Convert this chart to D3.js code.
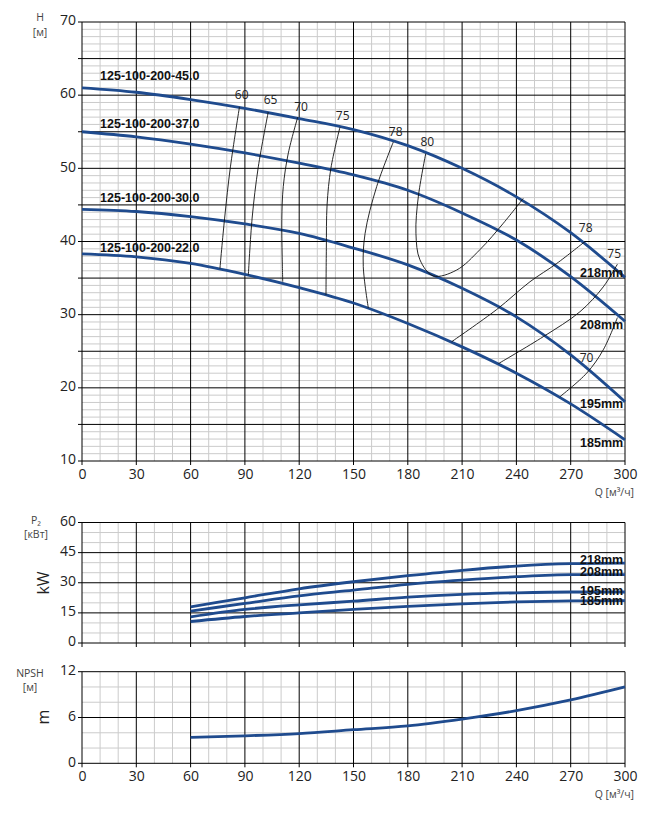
<!DOCTYPE html>
<html>
<head>
<meta charset="utf-8">
<script src="https://cdn.jsdelivr.net/npm/d3@7"></script>
<style>
  body { margin: 0; background: #fff; }
  svg { display: block; }
</style>
</head>
<body>
<div id="chart"><svg></svg></div>
<script>
// head curves, Q in m3/h, H in m
var flowQ = [0, 30, 60, 90, 120, 150, 180, 210, 240, 270, 300];
var head218 = [61.0, 60.4, 59.4, 58.2, 56.8, 55.3, 53.1, 50.0, 46.1, 41.2, 35.1];
var head208 = [55.0, 54.3, 53.3, 52.1, 50.7, 49.1, 47.0, 43.9, 40.2, 35.2, 29.1];
var head195 = [44.4, 44.1, 43.4, 42.4, 41.1, 39.1, 36.8, 33.6, 29.7, 24.5, 18.1];
var head185 = [38.3, 37.9, 37.0, 35.5, 33.7, 31.6, 28.8, 25.6, 22.0, 17.8, 12.9];

var models = ["125-100-200-45.0", "125-100-200-37.0", "125-100-200-30.0", "125-100-200-22.0"];
var diameters = ["218mm", "208mm", "195mm", "185mm"];
// where the model names sit (Q, H)
var modelLabelQ = [10, 10, 10, 10];
var modelLabelH = [62.7, 56.1, 46.0, 39.15];
var diameterLabelH = [35.75, 28.7, 17.9, 12.5];
var diameterLabelP = [41.7, 35.3, 26.3, 21.0];

// power P2, kW
var powerQ = [60, 90, 120, 150, 180, 210, 240, 270, 300];
var power218 = [18.0, 22.5, 27.0, 30.5, 33.5, 36.2, 38.3, 39.5, 39.8];
var power208 = [15.9, 19.7, 23.5, 26.3, 29.2, 31.3, 33.0, 34.0, 34.0];
var power195 = [13.0, 16.7, 19.0, 20.8, 22.8, 24.2, 25.0, 25.4, 25.4];
var power185 = [10.7, 13.2, 15.0, 16.7, 18.2, 19.5, 20.5, 21.0, 21.1];

// NPSH, m
var npshQ = [60, 90, 120, 150, 180, 210, 240, 270, 300];
var npshValues = [3.4, 3.6, 3.9, 4.4, 4.9, 5.8, 6.9, 8.3, 10.0];

// iso-efficiency lines, [Q, H]
var eff60 = [[87, 58.4], [82, 50.2], [78.8, 43.2], [76.2, 36.3]];
var eff65 = [[102.9, 57.7], [97.4, 50.2], [94, 43.2], [91.9, 35.4]];
var eff70 = [[119.2, 57.0], [114, 52.1], [111.2, 47.5], [110.4, 43], [110.6, 38], [110.9, 34.5]];
var eff75 = [[142.5, 55.6], [137.5, 50], [135.4, 45], [135, 39], [134.8, 32.7]];
var eff78 = [[172, 53.6], [162.8, 47.5], [156.4, 41.1], [155.4, 36.6], [158.2, 30.9]];
var eff80 = [[189.9, 52.0], [185.8, 46.1], [184.5, 41.1], [186.7, 37.5], [194.1, 35.3],
             [207, 36.1], [219.9, 38.9], [232.8, 42.5], [243.8, 45.9]];
var eff78r = [[277.9, 40.0], [262.3, 37.0], [247.5, 34.5], [229.1, 30.7], [204.2, 26.3]];
var eff75r = [[295.8, 36.9], [288, 33.8], [275.1, 30.4], [254.9, 27.0], [230, 23.3]];
var eff70r = [[295.8, 29.6], [288, 25.2], [278.8, 22.0], [264.1, 18.8]];

var effLabels = ["60", "65", "70", "75", "78", "80", "78", "75", "70"];
var effLabelQ = [88.2, 104.2, 121, 144, 173.3, 190.8, 278.3, 294, 278.8];
var effLabelH = [60.0, 59.3, 58.4, 57.2, 55.0, 53.6, 41.9, 38.3, 24.1];

var qTicks = d3.range(0, 301, 30);
var hTicks = d3.range(10, 71, 10);
var pTicks = [0, 15, 30, 45, 60];
var nTicks = [0, 6, 12];

var W = 651, H = 814;
var blue = "#1f4b8e";
var minor = "#cbcbcb";
var font = "'Open Sans', 'DejaVu Sans', sans-serif";
var boldFont = "'Liberation Sans', Arial, sans-serif";

var svg = d3.select("#chart").select("svg").attr("width", W).attr("height", H);

var x = d3.scaleLinear().domain([0, 300]).range([82, 625]);
var yH = d3.scaleLinear().domain([10, 70]).range([461, 22]);
var yP = d3.scaleLinear().domain([0, 60]).range([643, 522.5]);
var yN = d3.scaleLinear().domain([0, 12]).range([763.3, 671.7]);

function grid(y, yMin, yMax, minorStep, majorStep) {
  var g = svg.append("g");
  var y0 = y(yMin), y1 = y(yMax);
  // minor
  g.selectAll("line.vm").data(d3.range(0, 301, 10).filter(function (d) { return d % 30 !== 0; }))
    .enter().append("line")
    .attr("x1", function (d) { return x(d); }).attr("x2", function (d) { return x(d); })
    .attr("y1", y0).attr("y2", y1)
    .attr("stroke", minor).attr("stroke-width", 1);
  var hm = [];
  for (var v = yMin; v <= yMax + 1e-9; v += minorStep) {
    if (Math.abs(v / majorStep - Math.round(v / majorStep)) > 1e-6) hm.push(v);
  }
  g.selectAll("line.hm").data(hm).enter().append("line")
    .attr("x1", x(0)).attr("x2", x(300))
    .attr("y1", function (d) { return y(d); }).attr("y2", function (d) { return y(d); })
    .attr("stroke", minor).attr("stroke-width", 1);
  // major
  g.selectAll("line.vM").data(qTicks).enter().append("line")
    .attr("x1", function (d) { return x(d); }).attr("x2", function (d) { return x(d); })
    .attr("y1", y0 + 4).attr("y2", y1)
    .attr("stroke", "#000").attr("stroke-width", 1);
  g.selectAll("line.hM").data(d3.range(yMin, yMax + 1e-9, majorStep)).enter().append("line")
    .attr("x1", x(0) - 4).attr("x2", x(300))
    .attr("y1", function (d) { return y(d); }).attr("y2", function (d) { return y(d); })
    .attr("stroke", "#000").attr("stroke-width", 1);
}

function leftAxis(y, ticks) {
  var g = svg.append("g").attr("transform", "translate(" + x(0) + ",0)")
    .call(d3.axisLeft(y).tickValues(ticks).tickSize(0).tickPadding(6));
  g.select(".domain").remove();
  g.selectAll("text").attr("font-family", font).attr("font-size", 14)
    .attr("fill", "#222").attr("dy", "0.2em");
}

function bottomAxis(y0) {
  var g = svg.append("g").attr("transform", "translate(0," + y0 + ")")
    .call(d3.axisBottom(x).tickValues(qTicks).tickSize(0).tickPadding(8));
  g.select(".domain").remove();
  g.selectAll("text").attr("font-family", font).attr("font-size", 14).attr("fill", "#222");
}

function smallText(tx, ty, str, anchor) {
  svg.append("text").attr("x", tx).attr("y", ty)
    .attr("text-anchor", anchor || "middle").attr("dy", "0.35em")
    .attr("font-family", font).attr("font-size", 10.5).attr("fill", "#444")
    .text(str);
}

grid(yH, 10, 70, 1, 5);
grid(yP, 0, 60, 5, 15);
grid(yN, 0, 12, 2, 6);

leftAxis(yH, hTicks);
leftAxis(yP, pTicks);
leftAxis(yN, nTicks);
bottomAxis(yH(10));
bottomAxis(yN(0));

// head curves
var headLine = d3.line()
  .x(function (d) { return x(d[0]); })
  .y(function (d) { return yH(d[1]); })
  .curve(d3.curveMonotoneX);

var heads = [head218, head208, head195, head185];
svg.append("g").selectAll("path").data(heads).enter().append("path")
  .attr("d", function (d) { return headLine(d3.zip(flowQ, d)); })
  .attr("fill", "none").attr("stroke", blue).attr("stroke-width", 2.8);

// efficiency lines
var effLine = d3.line()
  .x(function (d) { return x(d[0]); })
  .y(function (d) { return yH(d[1]); })
  .curve(d3.curveCatmullRom.alpha(0.5));

var effs = [eff60, eff65, eff70, eff75, eff78, eff80, eff78r, eff75r, eff70r];
svg.append("g").selectAll("path").data(effs).enter().append("path")
  .attr("d", effLine)
  .attr("fill", "none").attr("stroke", "#111").attr("stroke-width", 0.9);

svg.append("g").selectAll("text").data(effLabels).enter().append("text")
  .attr("x", function (d, i) { return x(effLabelQ[i]); })
  .attr("y", function (d, i) { return yH(effLabelH[i]); })
  .attr("dy", "0.35em").attr("text-anchor", "middle")
  .attr("font-family", font).attr("font-size", 12).attr("fill", "#222")
  .text(function (d) { return d; });

svg.append("g").selectAll("text").data(models).enter().append("text")
  .attr("x", function (d, i) { return x(modelLabelQ[i]); })
  .attr("y", function (d, i) { return yH(modelLabelH[i]); })
  .attr("dy", "0.35em")
  .attr("font-family", boldFont).attr("font-size", 12.5).attr("font-weight", "bold")
  .attr("fill", "#111")
  .text(function (d) { return d; });

svg.append("g").selectAll("text").data(diameters).enter().append("text")
  .attr("x", x(299))
  .attr("y", function (d, i) { return yH(diameterLabelH[i]); })
  .attr("dy", "0.35em").attr("text-anchor", "end")
  .attr("font-family", boldFont).attr("font-size", 12.5).attr("font-weight", "bold")
  .attr("fill", "#111")
  .text(function (d) { return d; });

// power curves
var powerLine = d3.line()
  .x(function (d) { return x(d[0]); })
  .y(function (d) { return yP(d[1]); })
  .curve(d3.curveMonotoneX);

var powers = [power218, power208, power195, power185];
svg.append("g").selectAll("path").data(powers).enter().append("path")
  .attr("d", function (d) { return powerLine(d3.zip(powerQ, d)); })
  .attr("fill", "none").attr("stroke", blue).attr("stroke-width", 2.8);

svg.append("g").selectAll("text").data(diameters).enter().append("text")
  .attr("x", x(299))
  .attr("y", function (d, i) { return yP(diameterLabelP[i]); })
  .attr("dy", "0.35em").attr("text-anchor", "end")
  .attr("font-family", boldFont).attr("font-size", 12.5).attr("font-weight", "bold")
  .attr("fill", "#111")
  .text(function (d) { return d; });

// npsh curve
var npshLine = d3.line()
  .x(function (d) { return x(d[0]); })
  .y(function (d) { return yN(d[1]); })
  .curve(d3.curveMonotoneX);

svg.append("path")
  .attr("d", npshLine(d3.zip(npshQ, npshValues)))
  .attr("fill", "none").attr("stroke", blue).attr("stroke-width", 2.8);

// axis captions
smallText(40, 17, "H");
smallText(40, 32, "[м]");
smallText(36, 520, "P₂");
smallText(36, 534, "[кВт]");
smallText(30, 673, "NPSH");
smallText(30, 687, "[м]");
smallText(634, 492, "Q [м³/ч]", "end");
smallText(634, 794, "Q [м³/ч]", "end");

svg.append("text").attr("transform", "translate(43,583) rotate(-90)")
  .attr("text-anchor", "middle").attr("dy", "0.35em")
  .attr("font-family", font).attr("font-size", 16).attr("fill", "#222").text("kW");
svg.append("text").attr("transform", "translate(43,717) rotate(-90)")
  .attr("text-anchor", "middle").attr("dy", "0.35em")
  .attr("font-family", font).attr("font-size", 16).attr("fill", "#222").text("m");
</script>
</body>
</html>
